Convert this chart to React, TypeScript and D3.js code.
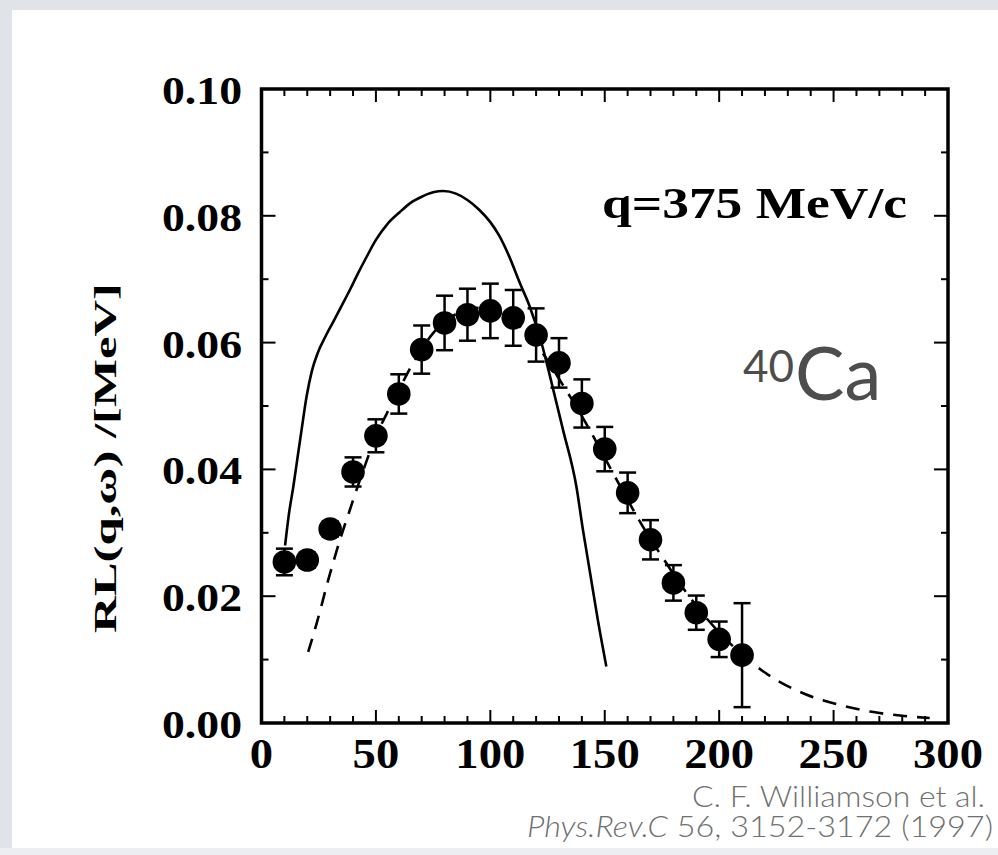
import React from "react";
import * as d3 from "d3";

const W = 998;
const H = 855;

// Measured data points (omega in MeV, R_L in 1/MeV)
const omega = [10, 20, 30, 40, 50, 60, 70, 80, 90, 100, 110, 120, 130, 140, 150, 160, 170, 180, 190, 200, 210];
const rl = [0.0254, 0.0257, 0.0306, 0.0396, 0.0453, 0.0519, 0.0589, 0.0631, 0.0644, 0.065, 0.0639, 0.0612, 0.0568, 0.0504, 0.0432, 0.0363, 0.0289, 0.0221, 0.0174, 0.0132, 0.0107];
const rlErr = [0.0021, 0.0012, 0.0012, 0.0023, 0.0026, 0.0031, 0.0038, 0.0043, 0.0041, 0.0043, 0.0044, 0.0042, 0.0039, 0.0038, 0.0035, 0.0032, 0.0031, 0.0028, 0.0027, 0.0028, 0.0082];

// Solid theory curve
const solidW = [10.3, 12, 14, 16, 17.5, 19.7, 22, 24.5, 28, 31.4, 35, 38.6, 42, 45.9, 50, 55, 60.5, 65, 70, 75, 79.4, 85, 90, 95, 100, 104, 108, 112.9, 117.2, 122.4, 126, 131.8, 137.6, 140.5, 143.4, 147, 150.7];
const solidR = [0.028, 0.033, 0.0375, 0.0425, 0.0462, 0.0515, 0.0555, 0.0583, 0.061, 0.0633, 0.0658, 0.0683, 0.0708, 0.0735, 0.0762, 0.0787, 0.0806, 0.082, 0.083, 0.0837, 0.0839, 0.0835, 0.0825, 0.081, 0.079, 0.0768, 0.0738, 0.0694, 0.0657, 0.0599, 0.0548, 0.0462, 0.0373, 0.0304, 0.0241, 0.0162, 0.0089];

// Dashed theory curve
const dashW = [20.4, 24.1, 29.2, 34.3, 38.6, 44.5, 50, 55, 60, 65, 70, 75, 80, 85, 90, 95, 100, 105, 110, 115, 120, 125, 130, 135, 140, 145, 150, 155, 160, 165, 170, 175.5, 180, 190, 200, 210, 221, 238, 252, 266, 281, 292];
const dashR = [0.0112, 0.0157, 0.0226, 0.0289, 0.0336, 0.0399, 0.0452, 0.049, 0.0525, 0.056, 0.059, 0.0615, 0.0633, 0.0645, 0.0652, 0.0655, 0.0653, 0.0646, 0.0634, 0.0618, 0.0598, 0.0572, 0.0543, 0.0514, 0.0484, 0.0452, 0.0418, 0.0385, 0.0352, 0.032, 0.029, 0.026, 0.0235, 0.0185, 0.0143, 0.0108, 0.0077, 0.0045, 0.0029, 0.0018, 0.0011, 0.0008];

const xTicks = [0, 50, 100, 150, 200, 250, 300];
const xMinor = d3.range(0, 301, 10);
const yTicks = [0, 0.02, 0.04, 0.06, 0.08, 0.1];
const yMinor = d3.range(0, 0.1001, 0.01);

const yLabel = "RL(q,\u03c9) /[MeV]";
const annotation = "q=375 MeV/c";
const citation1 = "C. F. Williamson et al.";
const citationJournal = "Phys.Rev.C";
const citationRest = " 56, 3152-3172 (1997)";

export default function App() {
  const x = d3.scaleLinear().domain([0, 300]).range([261.5, 948]);
  const y = d3.scaleLinear().domain([0, 0.1]).range([723, 89]);
  const [x0, x1] = x.range();
  const [y0, y1] = y.range();

  const line = d3
    .line<[number, number]>()
    .x((d) => x(d[0]))
    .y((d) => y(d[1]))
    .curve(d3.curveMonotoneX);

  const solidPath = line(solidW.map((w, i) => [w, solidR[i]]) as [number, number][]) || "";
  const dashPath = line(dashW.map((w, i) => [w, dashR[i]]) as [number, number][]) || "";

  const serif = "'Liberation Serif', 'Times New Roman', serif";
  const sans = "Lato, 'Open Sans', sans-serif";
  const capW = 8.5;

  return (
    <svg
      width={W}
      height={H}
      viewBox={`0 0 ${W} ${H}`}
      style={{ position: "absolute", left: 0, top: 0, display: "block" }}
    >
      <rect x={0} y={0} width={W} height={H} fill="#e0e3e8" />
      <rect x={0} y={848} width={W} height={H - 848} fill="#eceef2" />
      <rect x={12} y={10} width={W - 12} height={838} fill="#ffffff" />

      {/* minor ticks */}
      {xMinor.map((v) => {
        const major = v % 50 === 0;
        const len = major ? 13 : 7;
        return (
          <g key={"xm" + v} stroke="#000" strokeWidth={2}>
            <line x1={x(v)} x2={x(v)} y1={y0} y2={y0 - len} />
            <line x1={x(v)} x2={x(v)} y1={y1} y2={y1 + len} />
          </g>
        );
      })}
      {yMinor.map((v, i) => {
        const major = i % 2 === 0;
        const len = major ? 14 : 7;
        return (
          <g key={"ym" + i} stroke="#000" strokeWidth={2}>
            <line x1={x0} x2={x0 + len} y1={y(v)} y2={y(v)} />
            <line x1={x1} x2={x1 - len} y1={y(v)} y2={y(v)} />
          </g>
        );
      })}

      {/* frame */}
      <rect x={x0} y={y1} width={x1 - x0} height={y0 - y1} fill="none" stroke="#000" strokeWidth={3.5} />

      {/* tick labels */}
      {xTicks.map((v) => {
        const s = String(v);
        return (
          <text
            key={"xl" + v}
            x={x(v)}
            y={768}
            textAnchor="middle"
            fontFamily={serif}
            fontWeight="bold"
            fontSize={42}
            textLength={s.length * 23.3}
            lengthAdjust="spacingAndGlyphs"
            fill="#000"
          >
            {s}
          </text>
        );
      })}
      {yTicks.map((v) => {
        const s = v.toFixed(2);
        return (
          <text
            key={"yl" + v}
            x={242}
            y={y(v) + 15}
            textAnchor="end"
            fontFamily={serif}
            fontWeight="bold"
            fontSize={40}
            textLength={80}
            lengthAdjust="spacingAndGlyphs"
            fill="#000"
          >
            {s}
          </text>
        );
      })}

      {/* y axis label */}
      <text
        transform={`translate(116, ${458}) rotate(-90)`}
        textAnchor="middle"
        fontFamily={serif}
        fontWeight="bold"
        fontSize={31}
        textLength={350}
        lengthAdjust="spacingAndGlyphs"
        fill="#000"
      >
        {yLabel}
      </text>

      {/* theory curves */}
      <path d={solidPath} fill="none" stroke="#000" strokeWidth={2.6} />
      <path d={dashPath} fill="none" stroke="#000" strokeWidth={2.6} strokeDasharray="14 10" />

      {/* data with error bars */}
      {omega.map((w, i) => {
        const cx = x(w);
        const cy = y(rl[i]);
        const top = y(rl[i] + rlErr[i]);
        const bot = y(rl[i] - rlErr[i]);
        return (
          <g key={"p" + w}>
            <line x1={cx} x2={cx} y1={top} y2={bot} stroke="#000" strokeWidth={2.5} />
            <line x1={cx - capW} x2={cx + capW} y1={top} y2={top} stroke="#000" strokeWidth={2.5} />
            <line x1={cx - capW} x2={cx + capW} y1={bot} y2={bot} stroke="#000" strokeWidth={2.5} />
            <circle cx={cx} cy={cy} r={11.8} fill="#000" />
          </g>
        );
      })}

      {/* annotations */}
      <text
        x={602}
        y={218}
        fontFamily={serif}
        fontWeight="bold"
        fontSize={44}
        textLength={305}
        lengthAdjust="spacingAndGlyphs"
        fill="#000"
      >
        {annotation}
      </text>

      <text x={743} y={382} fontFamily={sans} fontSize={44} fill="#4d4d4d">
        40
      </text>
      <text x={795} y={400} fontFamily={sans} fontSize={74} fill="#4d4d4d">
        Ca
      </text>

      <text
        x={692}
        y={807}
        fontFamily={sans}
        fontWeight={300}
        fontSize={30}
        textLength={293}
        lengthAdjust="spacingAndGlyphs"
        fill="#707070"
      >
        {citation1}
      </text>
      <text
        x={527}
        y={837}
        fontFamily={sans}
        fontWeight={300}
        fontSize={30}
        textLength={466}
        lengthAdjust="spacingAndGlyphs"
        fill="#707070"
      >
        <tspan fontStyle="italic">{citationJournal}</tspan>
        <tspan>{citationRest}</tspan>
      </text>
    </svg>
  );
}
